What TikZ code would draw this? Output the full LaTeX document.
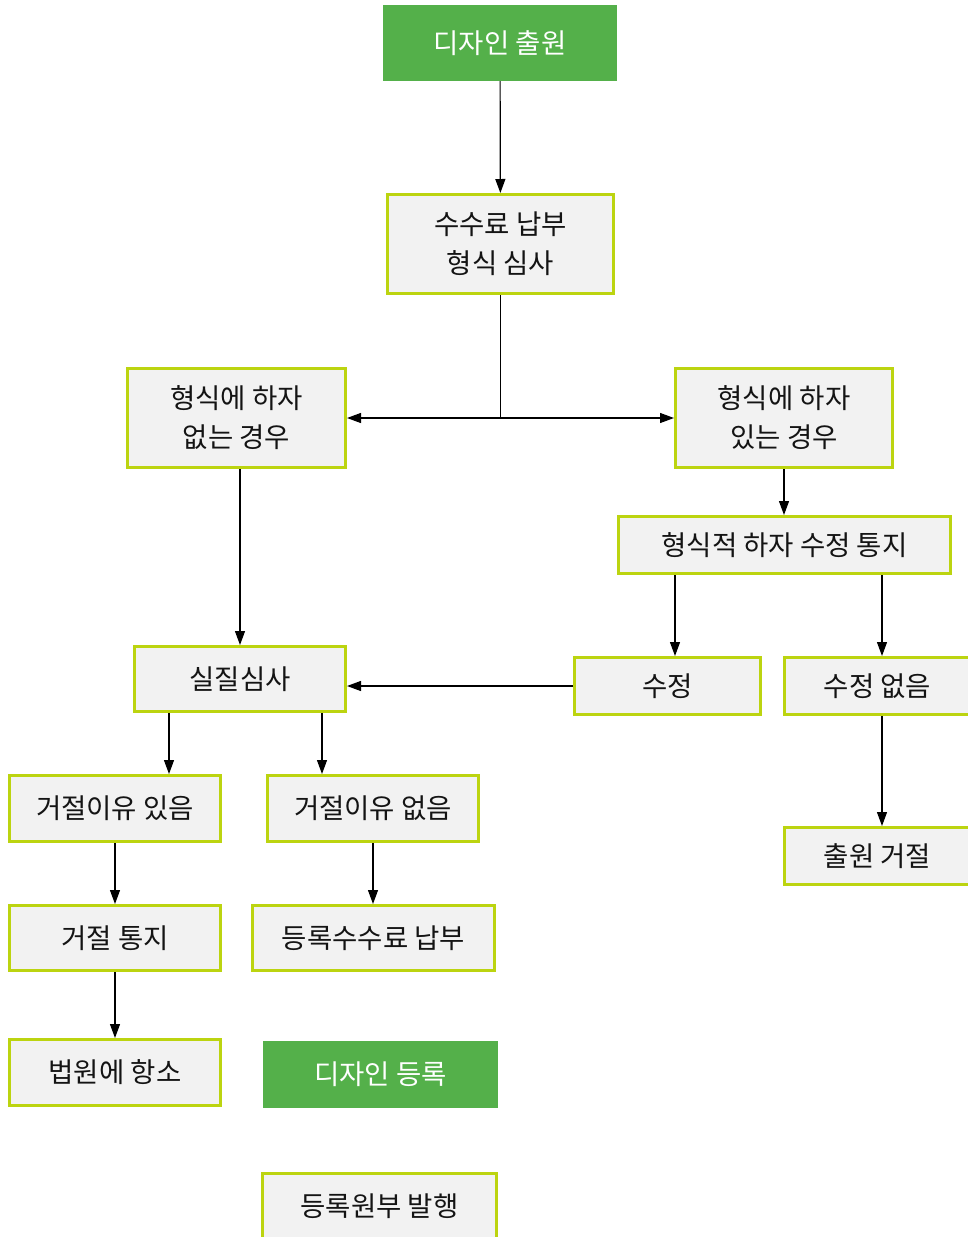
\documentclass[tikz,border=0pt]{standalone}
\usepackage{fontspec}
\setmainfont{Noto Sans CJK KR}
\usepackage{xcolor}
\usepackage{tikz}
\usetikzlibrary{arrows.meta,positioning}

\definecolor{limeline}{RGB}{188,212,16}
\definecolor{boxgray}{RGB}{242,242,242}
\definecolor{startgreen}{RGB}{84,176,74}
\definecolor{inkgray}{RGB}{20,20,20}

\begin{document}
\begin{tikzpicture}[
            x=1pt, y=-1pt,
            font=\fontsize{27.5}{39}\selectfont,
            block/.style={rectangle, draw=limeline, line width=3pt, fill=boxgray, text=inkgray, align=center, inner sep=0pt},
            terminal/.style={rectangle, fill=startgreen, text=white, align=center, inner sep=0pt},
            line/.style={draw, -{Triangle[length=14pt,width=10pt]}, line width=1.2pt}
        ]
        \useasboundingbox (0,0) rectangle (967,1237);

        % Main Nodes
        \node [terminal, minimum width=234pt, minimum height=76pt] (apply) at (500,43) {디자인 출원};
        \node [block, minimum width=226pt, minimum height=99pt] (fee) at (500.5,244) {수수료 납부\\형식 심사};
        \node [block, minimum width=218pt, minimum height=99pt] (clean) at (236.5,418) {형식에 하자\\없는 경우};
        \node [block, minimum width=217pt, minimum height=99pt] (flawed) at (784,418) {형식에 하자\\있는 경우};
        \node [block, minimum width=332pt, minimum height=57pt] (notice) at (784.5,545) {형식적 하자 수정 통지};

        % Substantive examination
        \node [block, minimum width=211pt, minimum height=65pt] (exam) at (240,679) {실질심사};
        \node [block, minimum width=186pt, minimum height=57pt] (amend) at (667.5,686) {수정};
        \node [block, minimum width=186pt, minimum height=57pt] (noamend) at (877.5,686) {수정 없음};
        \node [block, minimum width=186pt, minimum height=57pt] (refuse) at (877.5,856) {출원 거절};

        % Outcomes
        \node [block, minimum width=211pt, minimum height=66pt] (grounds) at (115,808.5) {거절이유 있음};
        \node [block, minimum width=211pt, minimum height=66pt] (nogrounds) at (373,808.5) {거절이유 없음};
        \node [block, minimum width=211pt, minimum height=65pt] (refusal) at (115,938) {거절 통지};
        \node [block, minimum width=242pt, minimum height=65pt] (regfee) at (373.5,938) {등록수수료 납부};
        \node [block, minimum width=211pt, minimum height=66pt] (appeal) at (115,1072.5) {법원에 항소};
        \node [terminal, minimum width=235pt, minimum height=67pt] (register) at (380.5,1074.5) {디자인 등록};
        \node [block, minimum width=234pt, minimum height=65pt] (ledger) at (379.5,1206) {등록원부 발행};

        % Edges
        \coordinate (split) at (fee.south |- clean.east);
        \path [line] (apply) -- (fee);
        \draw [line width=1.2pt] (fee.south) -- (split);
        \path [line] (split) -- (clean.east);
        \path [line] (split) -- (flawed.west);
        \path [line] (flawed.south) -- (flawed.south |- notice.north);
        \path [line] ([xshift=7.5pt]amend.north |- notice.south) -- ([xshift=7.5pt]amend.north);
        \path [line] ([xshift=4.5pt]noamend.north |- notice.south) -- ([xshift=4.5pt]noamend.north);
        \path [line] ([xshift=4.5pt]noamend.south) -- ([xshift=4.5pt]refuse.north);
        \path [line] (amend.west) -- (amend.west -| exam.east);
        \path [line] (exam.north |- clean.south) -- (exam.north);
        \path [line] ([xshift=-71pt]exam.south) -- ([xshift=-71pt]exam.south |- grounds.north);
        \path [line] ([xshift=82pt]exam.south) -- ([xshift=82pt]exam.south |- nogrounds.north);
        \path [line] (grounds) -- (refusal);
        \path [line] (nogrounds.south) -- (nogrounds.south |- regfee.north);
        \path [line] (refusal) -- (appeal);

    \end{tikzpicture}
\end{document}
